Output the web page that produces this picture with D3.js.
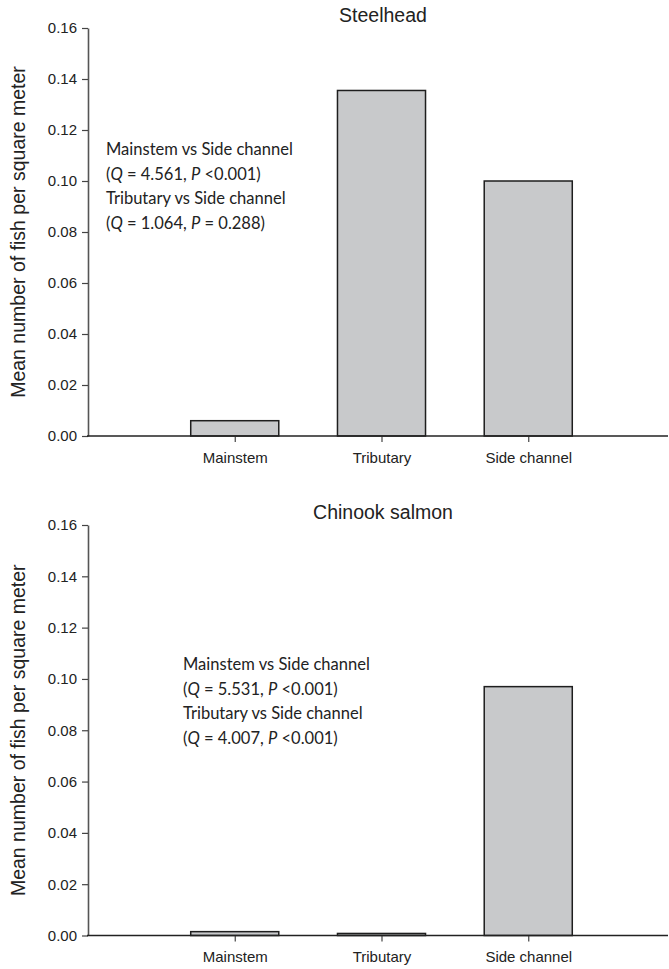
<!DOCTYPE html>
<html><head><meta charset="utf-8">
<script src="https://cdn.jsdelivr.net/npm/d3@7"></script>
<style>
html,body{margin:0;padding:0;background:#fff;}
svg{display:block;}
</style></head>
<body>
<svg id="chart" width="669" height="969"></svg>
<script>
const categories = ["Mainstem", "Tributary", "Side channel"];
const steelheadValues = [0.006, 0.1355, 0.100];
const chinookValues = [0.0015, 0.0008, 0.097];
const yTicks = [0, 0.02, 0.04, 0.06, 0.08, 0.10, 0.12, 0.14, 0.16];
const titles = ["Steelhead", "Chinook salmon"];
const yTitle = "Mean number of fish per square meter";
const steelheadNotes = [
  [{t:"Mainstem vs Side channel"}],
  [{t:"("},{t:"Q",i:true},{t:" = 4.561, "},{t:"P",i:true},{t:" <0.001)"}],
  [{t:"Tributary vs Side channel"}],
  [{t:"("},{t:"Q",i:true},{t:" = 1.064, "},{t:"P",i:true},{t:" = 0.288)"}]
];
const chinookNotes = [
  [{t:"Mainstem vs Side channel"}],
  [{t:"("},{t:"Q",i:true},{t:" = 5.531, "},{t:"P",i:true},{t:" <0.001)"}],
  [{t:"Tributary vs Side channel"}],
  [{t:"("},{t:"Q",i:true},{t:" = 4.007, "},{t:"P",i:true},{t:" <0.001)"}]
];

const svg = d3.select("#chart");
const sansFont = "'Liberation Sans', Arial, Helvetica, sans-serif";
const noteFont = "Lato, 'Open Sans', sans-serif";

function panel(cfg) {
  const g = svg.append("g");
  const x = d3.scalePoint().domain(categories).range([88, 675]).padding(1);
  const y = d3.scaleLinear().domain([0, 0.16]).range([cfg.y0, cfg.y1]);
  const bw = x.step() * 0.6;

  // title
  g.append("text").attr("x", 383).attr("y", cfg.y1 - 6)
    .attr("text-anchor", "middle").attr("font-family", sansFont)
    .attr("font-size", 19.5).attr("fill", "#222").text(cfg.title);

  // y title
  g.append("text")
    .attr("transform", `translate(25,${(cfg.y0 + cfg.y1) / 2}) rotate(-90)`)
    .attr("text-anchor", "middle").attr("font-family", sansFont)
    .attr("font-size", 19.5).attr("fill", "#222").text(yTitle);

  // bars
  g.selectAll("rect.bar").data(cfg.values).join("rect")
    .attr("class", "bar")
    .attr("x", (d, i) => x(categories[i]) - bw / 2)
    .attr("y", d => y(d))
    .attr("width", bw)
    .attr("height", d => y(0) - y(d))
    .attr("fill", "#c8c9cb").attr("stroke", "#1e1e1e").attr("stroke-width", 1.5);

  // y axis
  const ya = g.append("g").attr("transform", "translate(88,0)")
    .call(d3.axisLeft(y).tickValues(yTicks).tickFormat(d3.format(".2f")).tickSize(6).tickPadding(5).tickSizeOuter(0));
  ya.select(".domain").attr("stroke", "#555").attr("stroke-width", 1.6);
  ya.selectAll(".tick line").attr("stroke", "#444").attr("stroke-width", 1.2);
  ya.selectAll(".tick text").attr("font-family", sansFont).attr("font-size", 15).attr("fill", "#222");

  // x axis
  const xa = g.append("g").attr("transform", `translate(0,${cfg.y0})`)
    .call(d3.axisBottom(x).tickSize(6).tickPadding(10).tickSizeOuter(0));
  xa.select(".domain").remove();
  xa.append("line").attr("x1", 87).attr("x2", 668).attr("y1", 0).attr("y2", 0)
    .attr("stroke", "#222").attr("stroke-width", 1.6);
  xa.selectAll(".tick line").attr("stroke", "#444").attr("stroke-width", 1.2);
  xa.selectAll(".tick text").attr("font-family", sansFont).attr("font-size", 15).attr("fill", "#222");

  // notes
  const nt = g.append("g");
  cfg.notes.forEach((line, li) => {
    const t = nt.append("text").attr("x", cfg.nx).attr("y", cfg.ny + li * 24.5)
      .attr("font-family", noteFont).attr("font-size", 15).attr("fill", "#222");
    line.forEach(s => {
      const ts = t.append("tspan").text(s.t);
      if (s.i) ts.attr("font-style", "italic");
    });
  });
  const first = nt.select("text").node();
  const w = first.getComputedTextLength();
  const fs = 15 * 187 / w;
  nt.selectAll("text").attr("font-size", fs);
}

panel({y0: 436, y1: 28, title: titles[0], values: steelheadValues, notes: steelheadNotes, nx: 106, ny: 155});
panel({y0: 935.5, y1: 525, title: titles[1], values: chinookValues, notes: chinookNotes, nx: 183, ny: 670});
</script>
</body></html>
